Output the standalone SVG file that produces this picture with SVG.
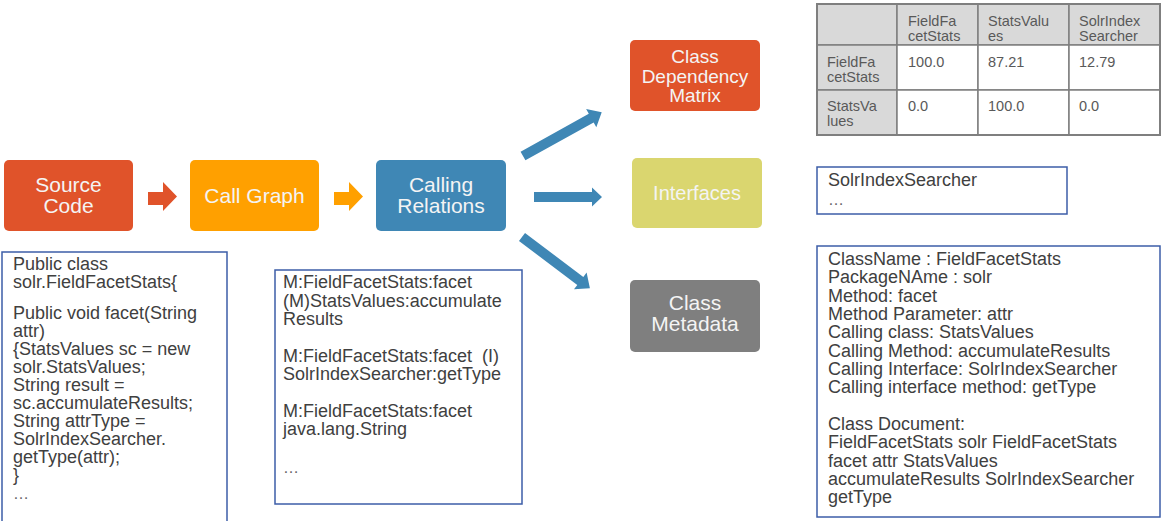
<svg xmlns="http://www.w3.org/2000/svg" width="1164" height="521" viewBox="0 0 1164 521">
  <style>
    .node-label { font-family: "Liberation Sans", Arial, sans-serif; font-size: 21px; fill: #F4F4F4; text-anchor: middle; }
    .note { fill: #FFFFFF; stroke: #3C5DA8; stroke-width: 1.5; }
    .note-text { font-family: "Liberation Sans", Arial, sans-serif; font-size: 18px; fill: #404040; }
    .dots { font-family: "Liberation Sans", Arial, sans-serif; font-size: 16px; fill: #666666; }
    .cell-head { fill: #D9D9D9; stroke: #7F7F7F; stroke-width: 1.5; }
    .cell { fill: #FFFFFF; stroke: #7F7F7F; stroke-width: 1.5; }
    .cell-text { font-family: "Liberation Sans", Arial, sans-serif; font-size: 14.5px; fill: #595959; }
  </style>

  <rect width="1164" height="521" fill="#FFFFFF"/>

  <!-- connectors: block arrows between the stages -->
  <g id="connectors">
    <path d="M148,192 H163 V182 L177,196.5 L163,211 V205 H148 Z" fill="#E0532A"/>
    <path d="M334,192 H349 V182 L363,196.5 L349,211 V205 H334 Z" fill="#FFA000"/>
    <g fill="#3F87B5">
      <path transform="translate(523,156) rotate(-29)" d="M0,-5 H78 V-10.5 L90,0 L78,10.5 V5 H0 Z"/>
      <path transform="translate(534,197)" d="M0,-5 H58 V-9.5 L68,0 L58,9.5 V5 H0 Z"/>
      <path transform="translate(522,237) rotate(37)" d="M0,-5 H73 V-10.5 L85,0 L73,10.5 V5 H0 Z"/>
    </g>
  </g>

  <!-- pipeline stages -->
  <g id="source-code">
    <rect x="4" y="160" width="129" height="71" rx="5" fill="#E0532A"/>
    <text class="node-label" x="68.5" y="192">Source</text>
    <text class="node-label" x="68.5" y="213">Code</text>
  </g>
  <g id="call-graph">
    <rect x="190" y="160" width="129" height="71" rx="5" fill="#FFA000"/>
    <text class="node-label" x="254.5" y="203">Call Graph</text>
  </g>
  <g id="calling-relations">
    <rect x="376" y="160" width="130" height="71" rx="5" fill="#3F87B5"/>
    <text class="node-label" x="441" y="192">Calling</text>
    <text class="node-label" x="441" y="213">Relations</text>
  </g>
  <g id="class-dependency-matrix">
    <rect x="630" y="40" width="130" height="71" rx="5" fill="#E0532A"/>
    <text class="node-label" x="695" y="63" style="font-size:19px">Class</text>
    <text class="node-label" x="695" y="83" style="font-size:19px">Dependency</text>
    <text class="node-label" x="695" y="102" style="font-size:19px">Matrix</text>
  </g>
  <g id="interfaces">
    <rect x="632" y="158" width="130" height="70" rx="5" fill="#DAD66F"/>
    <text class="node-label" x="697" y="200" style="font-size:20px">Interfaces</text>
  </g>
  <g id="class-metadata">
    <rect x="630" y="280" width="130" height="72" rx="5" fill="#7F7F7F"/>
    <text class="node-label" x="695" y="310">Class</text>
    <text class="node-label" x="695" y="331">Metadata</text>
  </g>

  <!-- example source code -->
  <g id="source-example">
    <rect class="note" x="2" y="252" width="225" height="280"/>
    <text class="note-text" x="13" y="270">Public class</text>
    <text class="note-text" x="13" y="288">solr.FieldFacetStats{</text>
    <text class="note-text" x="13" y="319">Public void facet(String</text>
    <text class="note-text" x="13" y="337">attr)</text>
    <text class="note-text" x="13" y="355">{StatsValues sc = new</text>
    <text class="note-text" x="13" y="373">solr.StatsValues;</text>
    <text class="note-text" x="13" y="391">String result =</text>
    <text class="note-text" x="13" y="409">sc.accumulateResults;</text>
    <text class="note-text" x="13" y="427">String attrType =</text>
    <text class="note-text" x="13" y="445">SolrIndexSearcher.</text>
    <text class="note-text" x="13" y="463">getType(attr);</text>
    <text class="note-text" x="13" y="481">}</text>
    <text class="dots" x="13" y="499">…</text>
  </g>

  <!-- extracted calling relations -->
  <g id="relations-example">
    <rect class="note" x="275" y="270" width="247" height="234"/>
    <text class="note-text" x="283" y="288">M:FieldFacetStats:facet</text>
    <text class="note-text" x="283" y="306.5">(M)StatsValues:accumulate</text>
    <text class="note-text" x="283" y="325">Results</text>
    <text class="note-text" x="283" y="361.5" xml:space="preserve">M:FieldFacetStats:facet  (I)</text>
    <text class="note-text" x="283" y="380">SolrIndexSearcher:getType</text>
    <text class="note-text" x="283" y="416.5">M:FieldFacetStats:facet</text>
    <text class="note-text" x="283" y="435">java.lang.String</text>
    <text class="dots" x="283" y="473">…</text>
  </g>

  <!-- dependency matrix table -->
  <g id="matrix-table">
    <rect class="cell-head" x="817" y="4" width="80" height="41"/>
    <rect class="cell-head" x="897" y="4" width="81" height="41"/>
    <rect class="cell-head" x="978" y="4" width="91" height="41"/>
    <rect class="cell-head" x="1069" y="4" width="91" height="41"/>
    <rect class="cell-head" x="817" y="45" width="80" height="45"/>
    <rect class="cell" x="897" y="45" width="81" height="45"/>
    <rect class="cell" x="978" y="45" width="91" height="45"/>
    <rect class="cell" x="1069" y="45" width="91" height="45"/>
    <rect class="cell-head" x="817" y="90" width="80" height="45"/>
    <rect class="cell" x="897" y="90" width="81" height="45"/>
    <rect class="cell" x="978" y="90" width="91" height="45"/>
    <rect class="cell" x="1069" y="90" width="91" height="45"/>
    <rect x="817" y="4" width="343" height="131" fill="none" stroke="#7F7F7F" stroke-width="2"/>

    <text class="cell-text" x="908" y="26">FieldFa</text>
    <text class="cell-text" x="908" y="41">cetStats</text>
    <text class="cell-text" x="988" y="26">StatsValu</text>
    <text class="cell-text" x="988" y="41">es</text>
    <text class="cell-text" x="1079" y="26">SolrIndex</text>
    <text class="cell-text" x="1079" y="41">Searcher</text>

    <text class="cell-text" x="827" y="67">FieldFa</text>
    <text class="cell-text" x="827" y="82">cetStats</text>
    <text class="cell-text" x="908" y="67">100.0</text>
    <text class="cell-text" x="988" y="67">87.21</text>
    <text class="cell-text" x="1079" y="67">12.79</text>

    <text class="cell-text" x="827" y="111">StatsVa</text>
    <text class="cell-text" x="827" y="126">lues</text>
    <text class="cell-text" x="908" y="111">0.0</text>
    <text class="cell-text" x="988" y="111">100.0</text>
    <text class="cell-text" x="1079" y="111">0.0</text>
  </g>

  <!-- interface list -->
  <g id="interfaces-example">
    <rect class="note" x="817" y="167" width="250" height="47"/>
    <text class="note-text" x="828" y="186">SolrIndexSearcher</text>
    <text class="dots" x="828" y="205">…</text>
  </g>

  <!-- class metadata record -->
  <g id="metadata-example">
    <rect class="note" x="817" y="246" width="343" height="271"/>
    <text class="note-text" x="828" y="265">ClassName : FieldFacetStats</text>
    <text class="note-text" x="828" y="283.3">PackageNAme : solr</text>
    <text class="note-text" x="828" y="301.7">Method: facet</text>
    <text class="note-text" x="828" y="320">Method Parameter: attr</text>
    <text class="note-text" x="828" y="338.3">Calling class: StatsValues</text>
    <text class="note-text" x="828" y="356.7">Calling Method: accumulateResults</text>
    <text class="note-text" x="828" y="375">Calling Interface: SolrIndexSearcher</text>
    <text class="note-text" x="828" y="393.3">Calling interface method: getType</text>
    <text class="note-text" x="828" y="430">Class Document:</text>
    <text class="note-text" x="828" y="448.3">FieldFacetStats solr FieldFacetStats</text>
    <text class="note-text" x="828" y="466.7">facet attr StatsValues</text>
    <text class="note-text" x="828" y="485">accumulateResults SolrIndexSearcher</text>
    <text class="note-text" x="828" y="503.3">getType</text>
  </g>
</svg>
